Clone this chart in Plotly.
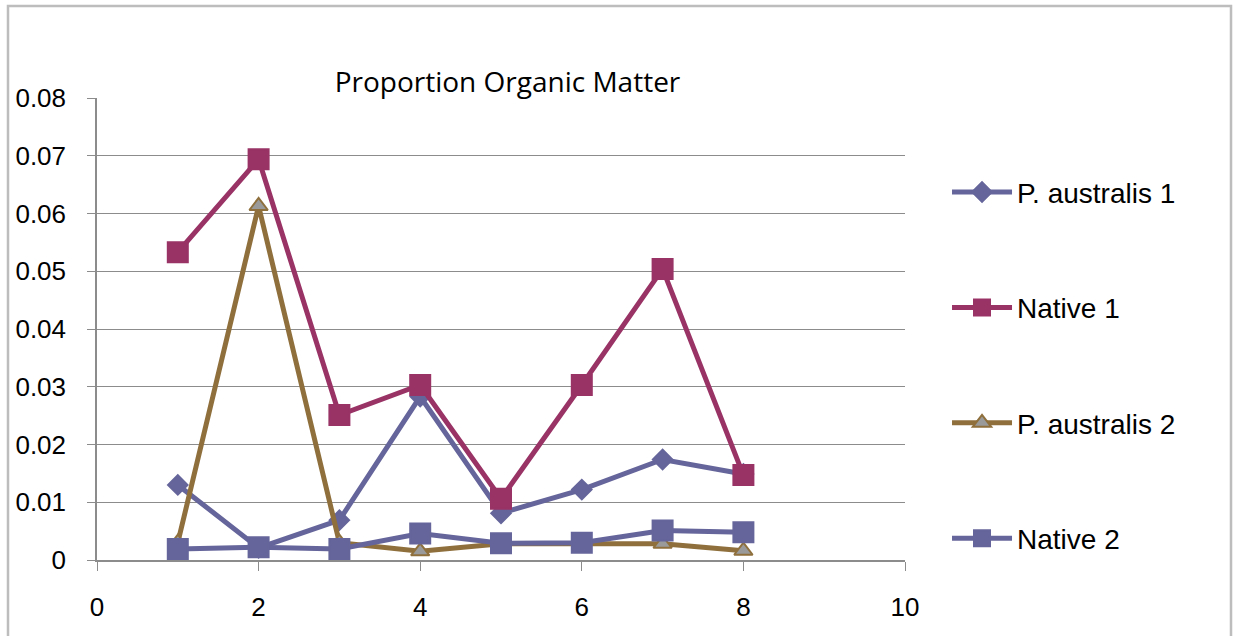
import plotly.graph_objects as go

# Sample positions and measured organic matter proportions
sites = [1, 2, 3, 4, 5, 6, 7, 8]
p_australis_1 = [0.0130, 0.0021, 0.0069, 0.0283, 0.0081, 0.0122, 0.0174, 0.0149]
native_1 = [0.0533, 0.0694, 0.0251, 0.0303, 0.0106, 0.0303, 0.0504, 0.0147]
p_australis_2 = [0.0030, 0.0613, 0.0030, 0.0015, 0.0028, 0.0028, 0.0028, 0.0016]
native_2 = [0.0019, 0.0022, 0.0019, 0.0046, 0.0029, 0.0030, 0.0051, 0.0048]

x_ticks = [0, 2, 4, 6, 8, 10]
y_ticks = [0, 0.01, 0.02, 0.03, 0.04, 0.05, 0.06, 0.07, 0.08]
y_tick_text = ["0", "0.01", "0.02", "0.03", "0.04", "0.05", "0.06", "0.07", "0.08"]

series = [
    ("P. australis 1", p_australis_1, "#65659b", "diamond", "#65659b", "#65659b", 15),
    ("Native 1", native_1, "#993366", "square", "#993366", "#993366", 20),
    ("P. australis 2", p_australis_2, "#8f703d", "triangle-up", "#9a9a9a", "#8f703d", 16),
    ("Native 2", native_2, "#65659b", "square", "#65659b", "#65659b", 20),
]

fig = go.Figure()
for i, (name, vals, line_c, sym, fill_c, edge_c, size) in enumerate(series):
    fig.add_trace(go.Scatter(
        x=sites, y=vals, name=name, mode="lines+markers",
        legendgroup=f"g{i}",
        line=dict(color=line_c, width=5),
        marker=dict(symbol=sym, size=size, color=fill_c,
                    line=dict(color=edge_c, width=2)),
    ))

fig.update_layout(
    width=1233, height=636,
    margin=dict(l=97, r=328, t=98, b=76),
    paper_bgcolor="white", plot_bgcolor="white",
    font=dict(family="Liberation Sans, Arial, sans-serif", color="black"),
    title=dict(text="Proportion Organic Matter", x=0.508, xref="paper", xanchor="center",
               y=1 - 82 / 636, yref="container", yanchor="middle",
               font=dict(family="Open Sans, Carlito, sans-serif", size=28, color="black")),
    legend=dict(x=1.052, xanchor="left", y=0.85, yanchor="top",
                font=dict(size=28, color="black"), tracegroupgap=76,
                itemwidth=60, bgcolor="rgba(0,0,0,0)"),
    showlegend=True,
)

fig.update_xaxes(range=[0, 10], tickvals=x_ticks, showgrid=False, zeroline=False,
                 showline=True, linecolor="#8c8c8c", linewidth=1.5,
                 ticks="outside", ticklen=9, tickcolor="#8c8c8c",
                 ticklabelstandoff=14,
                 tickfont=dict(size=26), fixedrange=True)
fig.update_yaxes(range=[0, 0.08], tickvals=y_ticks, ticktext=y_tick_text,
                 showgrid=True, gridcolor="#8c8c8c", gridwidth=1.2, zeroline=False,
                 showline=True, linecolor="#8c8c8c", linewidth=1.5,
                 ticks="outside", ticklen=8, tickcolor="#8c8c8c",
                 ticklabelstandoff=16,
                 tickfont=dict(size=26), fixedrange=True)

# Chart frame around the whole figure
fig.add_shape(type="rect", xref="paper", yref="paper",
              x0=(8 - 97) / 808, x1=(1231 - 97) / 808,
              y0=(560 - 660) / 462, y1=(560 - 6) / 462,
              line=dict(color="#bdbdbd", width=2.5), layer="below")

fig.write_html("out.html")
